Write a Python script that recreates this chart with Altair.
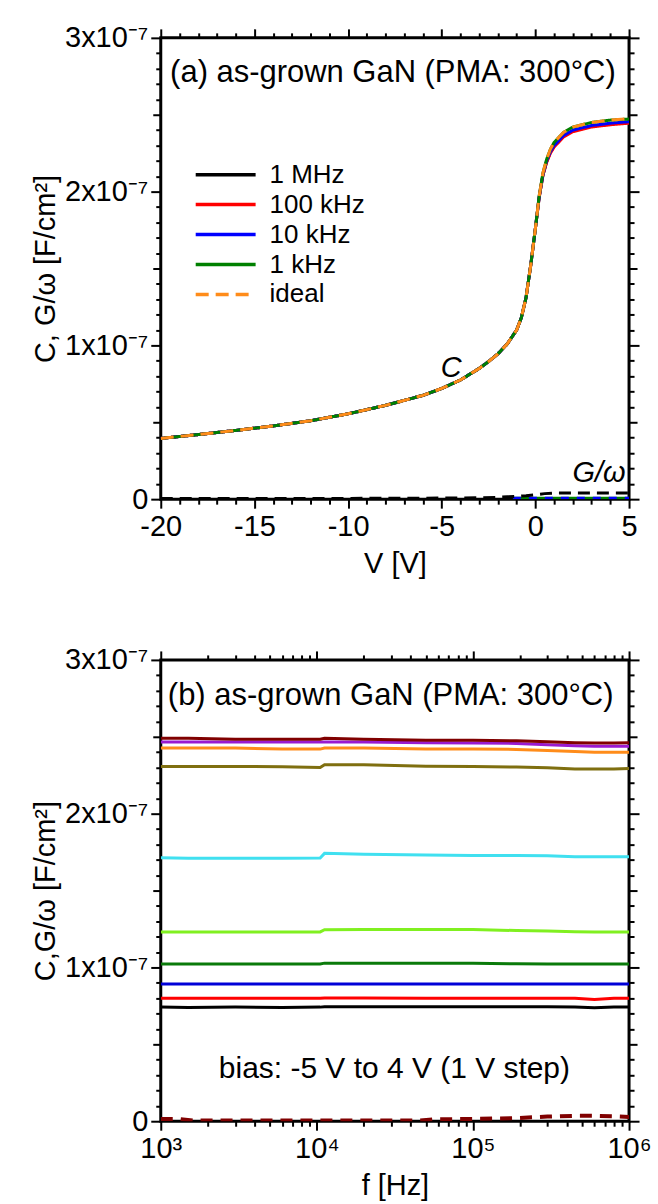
import altair as alt
import pandas as pd

FONT = "Liberation Sans"

# ---------------- panel (a): C-V and G/omega-V (values in 1e-7 F/cm^2) ----------------
V = [-20, -18, -16, -14, -12, -10, -8, -6, -5, -4, -3, -2.5, -2, -1.5, -1, -0.75, -0.5,
     -0.25, 0, 0.2, 0.4, 0.6, 0.8, 1, 1.5, 2, 3, 4, 5]
C_IDEAL = [0.395, 0.42, 0.447, 0.476, 0.51, 0.555, 0.61, 0.675, 0.72, 0.775, 0.85, 0.895,
           0.945, 1.01, 1.10, 1.18, 1.31, 1.52, 1.76, 1.97, 2.12, 2.21, 2.275, 2.32, 2.385,
           2.42, 2.45, 2.465, 2.475]
C_1KHZ = [0.395, 0.42, 0.447, 0.476, 0.51, 0.555, 0.61, 0.675, 0.72, 0.775, 0.85, 0.895,
          0.945, 1.01, 1.10, 1.18, 1.31, 1.52, 1.76, 1.97, 2.12, 2.21, 2.275, 2.32, 2.385,
          2.42, 2.45, 2.465, 2.472]
C_10KHZ = [0.395, 0.42, 0.447, 0.476, 0.51, 0.555, 0.61, 0.675, 0.72, 0.775, 0.85, 0.895,
           0.945, 1.01, 1.10, 1.18, 1.31, 1.52, 1.76, 1.965, 2.11, 2.20, 2.26, 2.30, 2.365,
           2.40, 2.43, 2.445, 2.455]
C_100KHZ = [0.395, 0.42, 0.447, 0.476, 0.51, 0.555, 0.61, 0.675, 0.72, 0.775, 0.85, 0.895,
            0.945, 1.01, 1.10, 1.18, 1.31, 1.52, 1.76, 1.96, 2.105, 2.19, 2.25, 2.29, 2.355,
            2.39, 2.42, 2.435, 2.445]
C_1MHZ = [0.395, 0.42, 0.447, 0.476, 0.51, 0.555, 0.61, 0.675, 0.72, 0.775, 0.85, 0.895,
          0.945, 1.01, 1.10, 1.18, 1.31, 1.52, 1.76, 1.96, 2.105, 2.195, 2.255, 2.295, 2.36,
          2.395, 2.425, 2.44, 2.45]

SERIES_A = ["1 MHz", "100 kHz", "10 kHz", "1 kHz", "ideal"]
COLORS_A = ["#000000", "#ff0000", "#0000ff", "#008000", "#ff8c1a"]
DASH_A = [[1, 0], [1, 0], [1, 0], [1, 0], [13, 7]]
C_A = [C_1MHZ, C_100KHZ, C_10KHZ, C_1KHZ, C_IDEAL]

GV = [-20, -10, -5, -3, -2, -1.5, -1, -0.5, 0, 0.5, 1, 2, 3, 4, 5]
G_1MHZ = [0.004, 0.005, 0.007, 0.009, 0.012, 0.015, 0.018, 0.022, 0.028, 0.036, 0.04,
          0.04, 0.04, 0.04, 0.04]
GV_LOW = [-1.2, 0, 2, 5]
G_10KHZ = [0.008, 0.008, 0.008, 0.008]
G_1KHZ = [0.008, 0.008, 0.008, 0.008]

# ---------------- panel (b): C-f at biases -5 V ... 4 V ----------------
F = [1000, 1500, 3000, 6000, 10500, 11200, 20000, 50000, 100000, 190000, 300000,
     450000, 600000, 800000, 1000000]
C_M5 = [0.742, 0.740, 0.742, 0.740, 0.742, 0.744, 0.744, 0.744, 0.744, 0.744, 0.744,
        0.742, 0.738, 0.742, 0.742]
C_M4 = [0.800, 0.800, 0.800, 0.800, 0.800, 0.802, 0.802, 0.800, 0.800, 0.800, 0.800,
        0.800, 0.792, 0.800, 0.800]
C_M3 = [0.892, 0.892, 0.892, 0.892, 0.892, 0.893, 0.893, 0.893, 0.893, 0.892, 0.892,
        0.892, 0.892, 0.892, 0.892]
C_M2 = [1.022, 1.022, 1.022, 1.022, 1.022, 1.028, 1.028, 1.028, 1.028, 1.024, 1.022,
        1.022, 1.022, 1.022, 1.022]
C_M1 = [1.231, 1.231, 1.231, 1.231, 1.231, 1.245, 1.246, 1.246, 1.246, 1.240, 1.237,
        1.232, 1.231, 1.231, 1.231]
C_0 = [1.714, 1.710, 1.710, 1.710, 1.712, 1.742, 1.736, 1.732, 1.728, 1.728, 1.726,
       1.720, 1.720, 1.720, 1.720]
C_P1 = [2.307, 2.307, 2.307, 2.305, 2.300, 2.318, 2.318, 2.308, 2.307, 2.303, 2.298,
        2.290, 2.290, 2.290, 2.294]
C_P2 = [2.427, 2.427, 2.427, 2.420, 2.420, 2.427, 2.427, 2.420, 2.420, 2.418, 2.411,
        2.405, 2.399, 2.399, 2.399]
C_P3 = [2.466, 2.466, 2.466, 2.466, 2.466, 2.466, 2.466, 2.461, 2.459, 2.457, 2.449,
        2.442, 2.438, 2.438, 2.438]
C_P4 = [2.490, 2.490, 2.484, 2.484, 2.484, 2.490, 2.484, 2.478, 2.477, 2.474, 2.468,
        2.462, 2.459, 2.459, 2.462]

BIAS = ["-5 V", "-4 V", "-3 V", "-2 V", "-1 V", "0 V", "1 V", "2 V", "3 V", "4 V"]
BIAS_COLORS = ["#000000", "#ff0000", "#0000d8", "#0a7a0a", "#80f020", "#40e0f0",
               "#7f6f10", "#ff8c1a", "#9a1ad0", "#800000"]
C_B = [C_M5, C_M4, C_M3, C_M2, C_M1, C_0, C_P1, C_P2, C_P3, C_P4]

F_G = [1000, 1300, 1600, 45000, 55000, 100000, 190000, 300000, 450000, 600000, 800000,
       1000000]
G_4V = [0.015, 0.015, 0.004, 0.004, 0.012, 0.015, 0.02, 0.03, 0.035, 0.035, 0.032, 0.028]

# ---------------- tables ----------------
df_a = pd.DataFrame([{"V": v, "C": c, "s": s, "o": i}
                     for i, (s, arr) in enumerate(zip(SERIES_A, C_A))
                     for v, c in zip(V, arr)])
df_g1 = pd.DataFrame({"V": GV, "G": G_1MHZ})
df_g10 = pd.DataFrame({"V": GV_LOW, "G": G_10KHZ})
df_g1k = pd.DataFrame({"V": GV_LOW, "G": G_1KHZ})

df_b = pd.DataFrame([{"f": f, "C": c, "b": b, "o": i}
                     for i, (b, arr) in enumerate(zip(BIAS, C_B))
                     for f, c in zip(F, arr)])
df_gb = pd.DataFrame({"f": F_G, "G": G_4V})

# ---------------- axes ----------------
Y_TICKS = [round(i * 0.1, 1) for i in range(31)]
V_TICKS = list(range(-20, 6))
F_TICKS = [m * 10 ** e for e in range(3, 6) for m in range(1, 10)] + [10 ** 6]

Y_MAJOR = "abs(datum.value - round(datum.value)) < 0.001"
Y_MED = "abs(2*datum.value - round(2*datum.value)) < 0.001"
Y_SIZE = {"condition": [{"test": Y_MAJOR, "value": 10}, {"test": Y_MED, "value": 8}], "value": 5}
Y_LABEL = ("abs(datum.value - round(datum.value)) < 0.001 ? "
           "(round(datum.value) == 0 ? '0' : round(datum.value) + 'x10\u207b\u2077') : ''")

V_SIZE = {"condition": {"test": "datum.value % 5 == 0", "value": 9}, "value": 5}
V_LABEL = "datum.value % 5 == 0 ? datum.value + '' : ''"

LOGE = "round(log(datum.value)/LN10)"
F_MAJOR = "abs(log(datum.value)/LN10 - round(log(datum.value)/LN10)) < 0.001"
F_SIZE = {"condition": {"test": F_MAJOR, "value": 9}, "value": 5}
F_LABEL = (F_MAJOR + " ? (" + LOGE + " == 3 ? '10\u00b3' : " + LOGE + " == 4 ? '10\u2074' : "
           + LOGE + " == 5 ? '10\u2075' : '10\u2076') : ''")

common = dict(labelOverlap=False, labelFlush=False, domain=False, grid=False)


def y_axis(title, labels=True, orient="left"):
    if labels:
        return alt.Axis(values=Y_TICKS, tickSize=Y_SIZE, labelExpr=Y_LABEL, title=title,
                        orient=orient, labelPadding=3, titlePadding=4, **common)
    return alt.Axis(values=Y_TICKS, tickSize=Y_SIZE, labels=False, title=None,
                    orient=orient, **common)


YS = alt.Scale(domain=[0, 3], nice=False, zero=False)
VS = alt.Scale(domain=[-20, 5], nice=False, zero=False)
FS = alt.Scale(type="log", domain=[1000, 1000000], nice=False)

W, H = 469, 462

# ---------------- panel (a) ----------------
axes_a1 = alt.Chart(df_a).mark_line(opacity=0).encode(
    x=alt.X("V:Q", scale=VS, axis=alt.Axis(values=V_TICKS, tickSize=V_SIZE, labelExpr=V_LABEL,
                                           title="V [V]", labelPadding=4, titlePadding=8,
                                           **common)),
    y=alt.Y("C:Q", scale=YS, axis=y_axis("C, G/\u03c9 [F/cm\u00b2]")),
    detail="s:N",
)
axes_a2 = alt.Chart(df_a).mark_line(opacity=0).encode(
    x=alt.X("V:Q", scale=VS, axis=alt.Axis(values=V_TICKS, tickSize=V_SIZE, labels=False,
                                           title=None, orient="top", **common)),
    y=alt.Y("C:Q", scale=YS, axis=y_axis(None, labels=False, orient="right")),
    detail="s:N",
)
legend_kw = dict(orient="none", legendX=48, legendY=120, title=None, symbolType="M-2,0H2",
                 symbolSize=900, symbolStrokeWidth=3.5, labelFontSize=26, labelFont=FONT,
                 labelOffset=27, rowPadding=0, labelColor="black")
curves_a = alt.Chart(df_a).mark_line(strokeWidth=3, clip=True).encode(
    x=alt.X("V:Q", scale=VS, axis=None),
    y=alt.Y("C:Q", scale=YS, axis=None),
    color=alt.Color("s:N", scale=alt.Scale(domain=SERIES_A, range=COLORS_A),
                    legend=alt.Legend(**legend_kw)),
    strokeDash=alt.StrokeDash("s:N", scale=alt.Scale(domain=SERIES_A, range=DASH_A),
                              legend=alt.Legend(**legend_kw)),
    order="o:Q",
)
g_green = alt.Chart(df_g1k).mark_line(strokeWidth=2.5, color="#008000", clip=True).encode(
    x=alt.X("V:Q", scale=VS, axis=None), y=alt.Y("G:Q", scale=YS, axis=None))
g_blue = alt.Chart(df_g10).mark_line(strokeWidth=2.5, color="#0000ff", strokeDash=[8, 8],
                                     clip=True).encode(
    x=alt.X("V:Q", scale=VS, axis=None), y=alt.Y("G:Q", scale=YS, axis=None))
g_black = alt.Chart(df_g1).mark_line(strokeWidth=3, color="#000000", strokeDash=[12, 7],
                                     clip=True).encode(
    x=alt.X("V:Q", scale=VS, axis=None), y=alt.Y("G:Q", scale=YS, axis=None))

txt_a = pd.DataFrame({"V": [-19.5], "C": [2.77], "t": ["(a) as-grown GaN (PMA: 300\u00b0C)"]})
title_a = alt.Chart(txt_a).mark_text(align="left", baseline="middle", font=FONT, fontSize=31,
                                     color="black").encode(
    x=alt.X("V:Q", scale=VS, axis=None), y=alt.Y("C:Q", scale=YS, axis=None), text="t:N")
lab_a = pd.DataFrame({"V": [-4.5, 3.4], "C": [0.85, 0.17], "t": ["C", "G/\u03c9"]})
labels_a = alt.Chart(lab_a).mark_text(align="center", baseline="middle", font=FONT,
                                      fontSize=29, fontStyle="italic", color="black").encode(
    x=alt.X("V:Q", scale=VS, axis=None), y=alt.Y("C:Q", scale=YS, axis=None), text="t:N")

panel_a = alt.layer(axes_a1, curves_a, g_green, g_blue, g_black, title_a, labels_a,
                    axes_a2).resolve_axis(x="independent", y="independent").properties(
    width=W, height=H)

# ---------------- panel (b) ----------------
axes_b1 = alt.Chart(df_b).mark_line(opacity=0).encode(
    x=alt.X("f:Q", scale=FS, axis=alt.Axis(values=F_TICKS, tickSize=F_SIZE, labelExpr=F_LABEL,
                                           title="f [Hz]", labelPadding=4, titlePadding=8,
                                           **common)),
    y=alt.Y("C:Q", scale=YS, axis=y_axis("C,G/\u03c9  [F/cm\u00b2]")),
    detail="b:N",
)
axes_b2 = alt.Chart(df_b).mark_line(opacity=0).encode(
    x=alt.X("f:Q", scale=FS, axis=alt.Axis(values=F_TICKS, tickSize=F_SIZE, labels=False,
                                           title=None, orient="top", **common)),
    y=alt.Y("C:Q", scale=YS, axis=y_axis(None, labels=False, orient="right")),
    detail="b:N",
)
curves_b = alt.Chart(df_b).mark_line(strokeWidth=3, clip=True).encode(
    x=alt.X("f:Q", scale=FS, axis=None),
    y=alt.Y("C:Q", scale=YS, axis=None),
    color=alt.Color("b:N", scale=alt.Scale(domain=BIAS, range=BIAS_COLORS), legend=None),
    order="o:Q",
)
g_b = alt.Chart(df_gb).mark_line(strokeWidth=4, color="#800000", strokeDash=[12, 8],
                                 clip=True).encode(
    x=alt.X("f:Q", scale=FS, axis=None), y=alt.Y("G:Q", scale=YS, axis=None))
txt_b = pd.DataFrame({"f": [1110, 31400], "C": [2.766, 0.34],
                      "t": ["(b) as-grown GaN (PMA: 300\u00b0C)", "bias: -5 V to 4 V (1 V step)"]})
title_b = alt.Chart(txt_b.iloc[[0]]).mark_text(align="left", baseline="middle", font=FONT,
                                               fontSize=31, color="black").encode(
    x=alt.X("f:Q", scale=FS, axis=None), y=alt.Y("C:Q", scale=YS, axis=None), text="t:N")
bias_b = alt.Chart(txt_b.iloc[[1]]).mark_text(align="center", baseline="middle", font=FONT,
                                              fontSize=30, color="black").encode(
    x=alt.X("f:Q", scale=FS, axis=None), y=alt.Y("C:Q", scale=YS, axis=None), text="t:N")

panel_b = alt.layer(axes_b1, curves_b, g_b, title_b, bias_b, axes_b2).resolve_axis(
    x="independent", y="independent").properties(width=W, height=H)

chart = alt.vconcat(panel_a, panel_b, spacing=64).resolve_scale(
    color="independent", strokeDash="independent"
).properties(padding={"left": 30, "top": 21, "right": 5, "bottom": 5}).configure_view(
    stroke="black", strokeWidth=3
).configure_axis(
    labelFont=FONT, titleFont=FONT, labelFontSize=29, titleFontSize=29, labelColor="black",
    titleColor="black", tickColor="black", tickWidth=2, titleFontWeight="normal"
)

chart.save("out.html", embed_options={"renderer": "svg", "actions": False})
